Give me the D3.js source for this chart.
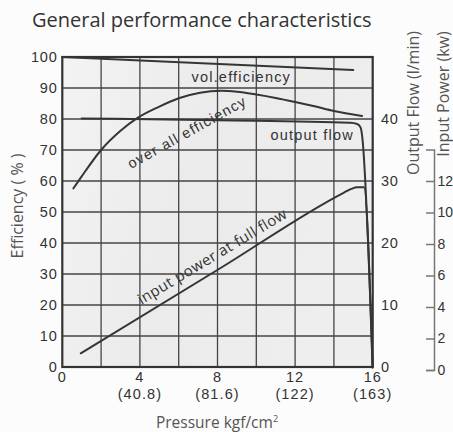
<!DOCTYPE html>
<html><head><meta charset="utf-8">
<script src="https://cdn.jsdelivr.net/npm/d3@7/dist/d3.min.js"></script>
<style>
html,body{margin:0;padding:0;background:#fcfcfc;}
svg{display:block;}
</style></head>
<body>
<svg id="c" width="453" height="432"></svg>
<script>
// ---- data ----
const pressureTicks = [0, 4, 8, 12, 16];
const pressureSubLabels = ["", "(40.8)", "(81.6)", "(122)", "(163)"];
const effTicks = [0,10,20,30,40,50,60,70,80,90,100];
const flowTicks = [0,10,20,30,40];
const powerTicks = [0,2,4,6,8,10,12];
// [pressure kgf/cm2, efficiency %]
const volEfficiency = [[0,100],[15,95.8]];
const overallEfficiency = [[0.57,57.6],[1,61.5],[2,70],[3,76.2],[3.84,80.2],[5,84],[6,86.7],[7.1,88.5],[8.2,89.1],[9,88.8],[10,87.9],[11,86.8],[12,85.5],[13,84.1],[14,82.6],[15.45,81]];
// [pressure, output flow l/min]
const outputFlow = [[1,40.1],[8,39.8],[14.85,39.4],[15.2,39.2],[15.38,38.6],[15.45,37.4],[16,0]];
// [pressure, input power kW]
const inputPower = [[0.95,1.06],[8.14,6.46],[14.5,11.25],[14.9,11.5],[15.2,11.6],[15.55,11.6],[15.99,0.15]];

const svg = d3.select("#c");
const x = d3.scaleLinear([0,16],[62.3,372.7]);
const yEff = d3.scaleLinear([0,100],[367,57]);
const yFlow = d3.scaleLinear([0,50],[367,57]);
const yPow = d3.scaleLinear([0,14],[370,149.5]);

const defs = svg.append("defs");
const g1 = defs.append("linearGradient").attr("id","pg").attr("x1","0").attr("y1","0").attr("x2","1").attr("y2","0.3");
g1.append("stop").attr("offset","0").attr("stop-color","#f3f3f3");
g1.append("stop").attr("offset","0.5").attr("stop-color","#ebebeb");
g1.append("stop").attr("offset","1").attr("stop-color","#eeeeee");

// plot background
svg.append("rect").attr("x",x(0)).attr("y",yEff(100)).attr("width",x(16)-x(0)).attr("height",yEff(0)-yEff(100)).attr("fill","url(#pg)");

// grid
const grid = svg.append("g").attr("stroke","#454545").attr("stroke-width",1.3);
grid.selectAll("line.v").data(d3.range(2,16,2)).join("line")
  .attr("x1",d=>x(d)).attr("x2",d=>x(d)).attr("y1",yEff(100)).attr("y2",yEff(0));
grid.selectAll("line.h").data(d3.range(10,100,10)).join("line")
  .attr("x1",x(0)).attr("x2",x(16)).attr("y1",d=>yEff(d)).attr("y2",d=>yEff(d));
svg.append("rect").attr("x",x(0)).attr("y",yEff(100)).attr("width",x(16)-x(0)).attr("height",yEff(0)-yEff(100))
  .attr("fill","none").attr("stroke","#333").attr("stroke-width",2.2);

const tickFont = "'Liberation Sans', Arial, sans-serif";
// left labels
svg.append("g").selectAll("text").data(effTicks).join("text")
  .attr("x",57.5).attr("y",d=>yEff(d)).attr("dy","0.36em").attr("text-anchor","end")
  .attr("font-family",tickFont).attr("font-size",14.5).attr("letter-spacing","0.8px").attr("fill","#333").text(d=>d);
// x labels
const xl = svg.append("g");
xl.selectAll("text.a").data(pressureTicks).join("text")
  .attr("x",d=>x(d)).attr("y",382).attr("text-anchor","middle")
  .attr("font-family",tickFont).attr("font-size",14.5).attr("letter-spacing","1px").attr("fill","#333").text(d=>d);
xl.selectAll("text.b").data(pressureTicks.slice(1)).join("text")
  .attr("x",d=>x(d)).attr("y",398.5).attr("text-anchor","middle")
  .attr("font-family",tickFont).attr("font-size",14.5).attr("letter-spacing","1.1px").attr("fill","#333")
  .text((d,i)=>pressureSubLabels[i+1]);
// flow labels
svg.append("g").selectAll("text").data(flowTicks).join("text")
  .attr("x",381).attr("y",d=>yFlow(d)).attr("dy","0.36em")
  .attr("font-family",tickFont).attr("font-size",14.5).attr("letter-spacing","0.8px").attr("fill","#333").text(d=>d);

// power axis
const pAxis = d3.axisRight(yPow).tickValues(powerTicks).tickSizeInner(-8).tickSizeOuter(-8).tickPadding(3.5);
const pg = svg.append("g").attr("transform","translate(434,0)").call(pAxis);
pg.select(".domain").attr("stroke","#777").attr("stroke-width",1.5);
pg.selectAll(".tick line").attr("stroke","#777").attr("stroke-width",1.5);
pg.selectAll(".tick text").attr("font-family",tickFont).attr("font-size",14).attr("fill","#333");

// curves
const lineE = d3.line().x(d=>x(d[0])).y(d=>yEff(d[1])).curve(d3.curveMonotoneX);
const lineF = d3.line().x(d=>x(d[0])).y(d=>yFlow(d[1])).curve(d3.curveMonotoneX);
const lineP = d3.line().x(d=>x(d[0])).y(d=>yPow(d[1])).curve(d3.curveMonotoneX);
const curves = svg.append("g").attr("fill","none").attr("stroke","#353535").attr("stroke-width",2).attr("stroke-linecap","round");
curves.append("path").attr("d",lineE(volEfficiency));
curves.append("path").attr("d",lineE(overallEfficiency));
curves.append("path").attr("d",lineF(outputFlow));
curves.append("path").attr("d",lineP(inputPower));

// curve labels
const lab = svg.append("g").attr("fill","#333");
lab.append("text").attr("x",191.5).attr("y",81.5).attr("font-family",tickFont).attr("font-size",14.5).attr("letter-spacing","1.2px").text("vol.efficiency");
lab.append("text").attr("x",270.5).attr("y",139.5).attr("font-family",tickFont).attr("font-size",14.5).attr("letter-spacing","1.2px").text("output flow");
lab.append("text").attr("transform","translate(131,169) rotate(-29)").attr("font-family",tickFont).attr("font-size",14.5).attr("letter-spacing","1.2px").text("over all efficiency");
lab.append("text").attr("transform","translate(141.5,305) rotate(-31)").attr("font-family","'Open Sans', sans-serif").attr("font-size",15).attr("letter-spacing","0.4px").text("input power at full flow");

// titles
const tf = "'Open Sans', 'Noto Sans', sans-serif";
svg.append("text").attr("x",32).attr("y",27).attr("font-family",tf).attr("font-size",20).attr("fill","#333").text("General performance characteristics");
svg.append("text").attr("transform","translate(22.5,206) rotate(-90)").attr("text-anchor","middle").attr("font-family",tf).attr("font-size",16).attr("fill","#555").text("Efficiency ( % )");
const xt = svg.append("text").attr("x",217).attr("y",427.5).attr("text-anchor","middle").attr("font-family",tf).attr("font-size",15.5).attr("fill","#555");
xt.append("tspan").text("Pressure kgf/cm");
xt.append("tspan").attr("font-size",9).attr("dy",-6).text("2");
svg.append("text").attr("transform","translate(419,103) rotate(-90)").attr("text-anchor","middle").attr("font-family",tf).attr("font-size",16).attr("fill","#555").text("Output Flow (l/min)");
svg.append("text").attr("transform","translate(448.5,94) rotate(-90)").attr("text-anchor","middle").attr("font-family",tf).attr("font-size",16).attr("fill","#555").text("Input Power (kw)");
</script>
</body></html>
